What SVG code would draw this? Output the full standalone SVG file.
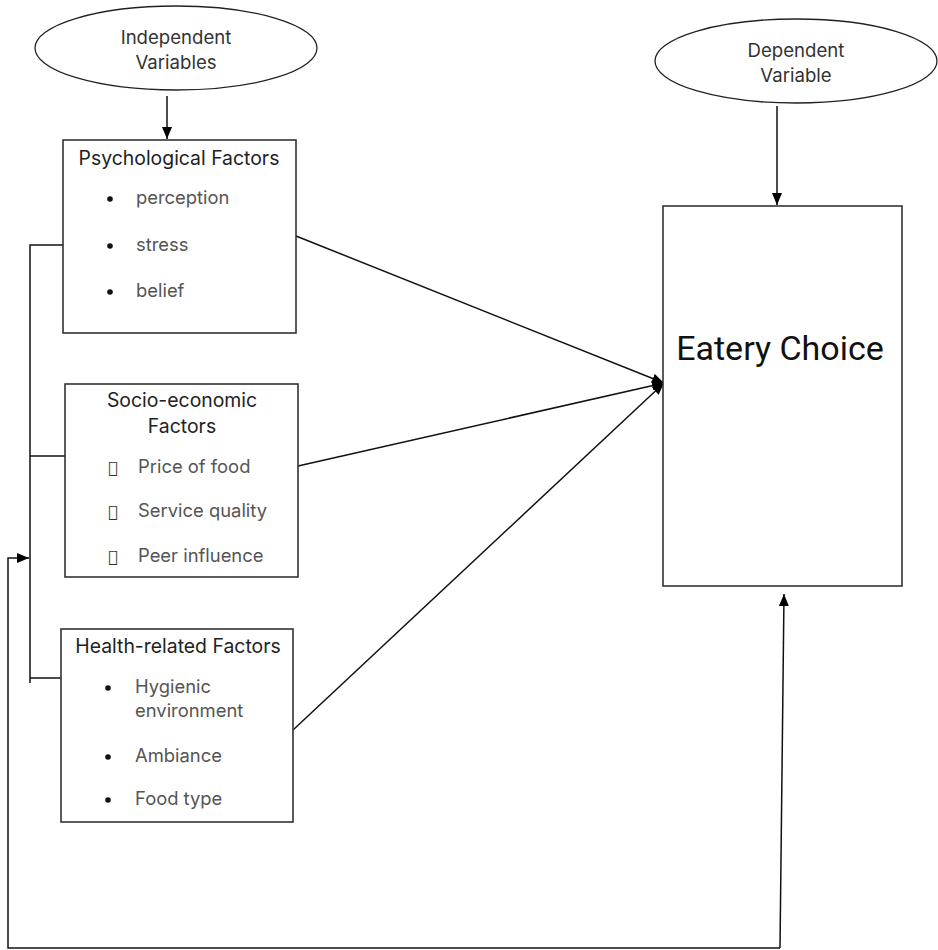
<svg xmlns="http://www.w3.org/2000/svg" width="938" height="950" viewBox="0 0 938 950">
<defs>
<marker id="ah" viewBox="0 0 12 10" refX="12" refY="5" markerWidth="12" markerHeight="10" markerUnits="userSpaceOnUse" orient="auto">
<path d="M0,0 L12,5 L0,10 Z" fill="#000"/>
</marker>
</defs>
<style>
.box{fill:#fff;stroke:#333;stroke-width:1.6}
.ell{fill:#fff;stroke:#222;stroke-width:1.3}
.ttl{font-family:Inter,"Liberation Sans",sans-serif;font-size:19.4px;fill:#222}
.itm{font-family:Inter,"Liberation Sans",sans-serif;font-size:18.4px;fill:#555}
.var{font-family:Inter,"Liberation Sans",sans-serif;font-size:18.6px;fill:#333}
.big{font-family:Roboto,"Liberation Sans",sans-serif;font-size:34px;fill:#111}
.ln{fill:none;stroke:#111;stroke-width:1.5}
.tofu{font-family:"DejaVu Sans",sans-serif;font-size:16px;fill:#333}
</style>
<rect width="938" height="950" fill="#fff"/>
<g id="connectors">
<line class="ln" x1="167" y1="96" x2="167" y2="139" marker-end="url(#ah)"/>
<line class="ln" x1="777" y1="106" x2="777" y2="205" marker-end="url(#ah)"/>
<line class="ln" x1="296" y1="236" x2="664" y2="383" marker-end="url(#ah)"/>
<line class="ln" x1="298" y1="466" x2="664" y2="383" marker-end="url(#ah)"/>
<line class="ln" x1="293" y1="730" x2="664" y2="383" marker-end="url(#ah)"/>
<polyline class="ln" points="63,245 30,245 30,683"/>
<line class="ln" x1="30" y1="456" x2="65" y2="456"/>
<line class="ln" x1="30" y1="678" x2="61" y2="678"/>
<polyline class="ln" points="780,948 8,948 8,558 29,558" marker-end="url(#ah)"/>
<line class="ln" x1="780" y1="948" x2="784" y2="594" marker-end="url(#ah)"/>
</g>
<g id="independent">
<ellipse class="ell" cx="176" cy="48" rx="141" ry="42"/>
<text class="var" x="176" y="44" text-anchor="middle">Independent</text>
<text class="var" x="176" y="69" text-anchor="middle">Variables</text>
</g>
<g id="dependent">
<ellipse class="ell" cx="796" cy="61" rx="141" ry="42"/>
<text class="var" x="796" y="57" text-anchor="middle">Dependent</text>
<text class="var" x="796" y="82" text-anchor="middle">Variable</text>
</g>
<g id="psychological">
<rect class="box" x="63" y="140" width="233" height="193"/>
<text class="ttl" x="179" y="165" text-anchor="middle">Psychological Factors</text>
<circle cx="110" cy="199" r="2.8" fill="#111"/>
<text class="itm" x="136" y="204">perception</text>
<circle cx="110" cy="246" r="2.8" fill="#111"/>
<text class="itm" x="136" y="251">stress</text>
<circle cx="110" cy="292" r="2.8" fill="#111"/>
<text class="itm" x="136" y="297">belief</text>
</g>
<g id="socioeconomic">
<rect class="box" x="65" y="384" width="233" height="193"/>
<text class="ttl" x="182" y="407" text-anchor="middle">Socio-economic</text>
<text class="ttl" x="182" y="433" text-anchor="middle">Factors</text>
<text class="tofu" x="108" y="473">&#xF0B7;</text>
<text class="itm" x="138" y="473">Price of food</text>
<text class="tofu" x="108" y="517">&#xF0B7;</text>
<text class="itm" x="138" y="517">Service quality</text>
<text class="tofu" x="108" y="562">&#xF0B7;</text>
<text class="itm" x="138" y="562">Peer influence</text>
</g>
<g id="health">
<rect class="box" x="61" y="629" width="232" height="193"/>
<text class="ttl" x="178" y="653" text-anchor="middle">Health-related Factors</text>
<circle cx="108" cy="688" r="2.8" fill="#111"/>
<text class="itm" x="135" y="693">Hygienic</text>
<text class="itm" x="135" y="717">environment</text>
<circle cx="108" cy="757" r="2.8" fill="#111"/>
<text class="itm" x="135" y="762">Ambiance</text>
<circle cx="108" cy="800" r="2.8" fill="#111"/>
<text class="itm" x="135" y="805">Food type</text>
</g>
<g id="eatery">
<rect class="box" x="663" y="206" width="239" height="380"/>
<text class="big" x="780" y="360" text-anchor="middle">Eatery Choice</text>
</g>
</svg>
